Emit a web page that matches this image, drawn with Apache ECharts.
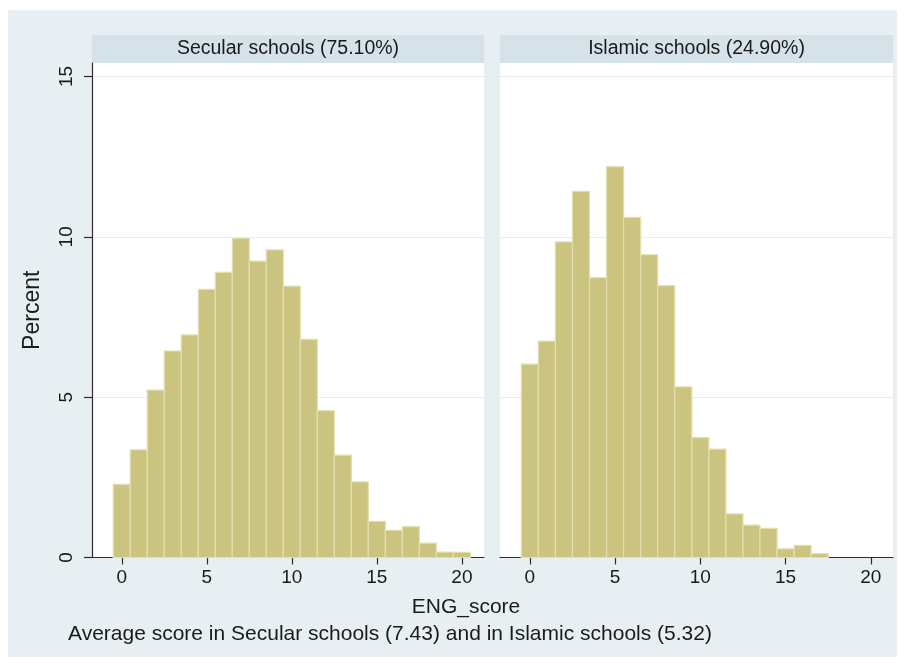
<!DOCTYPE html>
<html>
<head>
<meta charset="utf-8">
<title>ENG_score by school type</title>
<script src="https://cdn.jsdelivr.net/npm/echarts@6/dist/echarts.min.js"></script>
<style>
  html, body { margin: 0; padding: 0; background: #ffffff; }
  #chart { width: 904px; height: 667px; }
</style>
</head>
<body>
<div id="chart"></div>
<script>
// Histogram bins (score values, each bar spans score ± 0.5)
const secularScores = [0, 1, 2, 3, 4, 5, 6, 7, 8, 9, 10, 11, 12, 13, 14, 15, 16, 17, 18, 19, 20];
const secularPercent = [2.28, 3.36, 5.22, 6.44, 6.94, 8.36, 8.89, 9.95, 9.24, 9.59, 8.46, 6.80, 4.58, 3.19, 2.36, 1.13, 0.85, 0.96, 0.45, 0.17, 0.16];

const islamicScores = [0, 1, 2, 3, 4, 5, 6, 7, 8, 9, 10, 11, 12, 13, 14, 15, 16, 17];
const islamicPercent = [6.03, 6.75, 9.84, 11.42, 8.73, 12.19, 10.61, 9.44, 8.48, 5.32, 3.74, 3.38, 1.36, 1.01, 0.91, 0.27, 0.38, 0.12];

const panelTitles = ['Secular schools (75.10%)', 'Islamic schools (24.90%)'];
const xTickValues = [0, 5, 10, 15, 20];
const yTickValues = [0, 5, 10, 15];
const xAxisTitle = 'ENG_score';
const yAxisTitle = 'Percent';
const note = 'Average score in Secular schools (7.43) and in Islamic schools (5.32)';

const FONT = '"Liberation Sans", Arial, sans-serif';
const TEXT = '#1a1a1a';
const BAR_FILL = '#cbc380';
const BAR_EDGE = '#e4dfae';

function pairs(xs, ys) { return xs.map((x, i) => [x, ys[i]]); }

// Each bin is a rectangle from (score - 0.5) to (score + 0.5), drawn via axis coords
function renderBin(params, api) {
  const x = api.value(0);
  const y = api.value(1);
  const topLeft = api.coord([x - 0.5, y]);
  const bottomRight = api.coord([x + 0.5, 0]);
  return {
    type: 'rect',
    shape: {
      x: topLeft[0],
      y: topLeft[1],
      width: bottomRight[0] - topLeft[0],
      height: bottomRight[1] - topLeft[1]
    },
    style: { fill: BAR_FILL, stroke: BAR_EDGE, lineWidth: 1.2 }
  };
}

const grids = [
  { left: 92, top: 63, width: 392, height: 494.5 },
  { left: 500, top: 63, width: 393, height: 494.5 }
];

function xAxisFor(i) {
  return {
    type: 'value', gridIndex: i, min: -1.75, max: 21.3,
    axisLine: { show: true, onZero: false, lineStyle: { color: '#2b2b2b', width: 1.2 } },
    axisTick: { show: true, length: 7, customValues: xTickValues, lineStyle: { color: '#2b2b2b', width: 1.2 } },
    axisLabel: { show: true, customValues: xTickValues, margin: 11, fontFamily: FONT, fontSize: 19, color: TEXT },
    splitLine: { show: false }
  };
}

function yAxisFor(i) {
  const first = i === 0;
  return {
    type: 'value', gridIndex: i, min: 0, max: 15.42, interval: 5,
    name: first ? yAxisTitle : '',
    nameLocation: 'middle', nameGap: 48, nameRotate: 90,
    nameTextStyle: { fontFamily: FONT, fontSize: 23, color: TEXT },
    axisLine: { show: first, onZero: false, lineStyle: { color: '#2b2b2b', width: 1.2 } },
    axisTick: { show: first, length: 8, customValues: yTickValues, lineStyle: { color: '#2b2b2b', width: 1.2 } },
    axisLabel: { show: first, customValues: yTickValues, rotate: 90, margin: 16, fontFamily: FONT, fontSize: 19, color: TEXT },
    splitLine: { show: true, lineStyle: { color: '#e6edf0', width: 1.2 } }
  };
}

const chart = echarts.init(document.getElementById('chart'), null, { renderer: 'canvas' });

chart.setOption({
  backgroundColor: '#ffffff',
  animation: false,
  grid: grids.map(g => Object.assign({ show: true, backgroundColor: '#ffffff', borderWidth: 0 }, g)),
  xAxis: [xAxisFor(0), xAxisFor(1)],
  yAxis: [yAxisFor(0), yAxisFor(1)],
  graphic: [
    // outer plot region
    { type: 'rect', z: -10, silent: true, shape: { x: 8, y: 10, width: 889, height: 647 }, style: { fill: '#e8eff2' } },
    // panel header strips
    { type: 'rect', z: -5, silent: true, shape: { x: 92, y: 35, width: 392, height: 28 }, style: { fill: '#d6e2ea' } },
    { type: 'rect', z: -5, silent: true, shape: { x: 500, y: 35, width: 393, height: 28 }, style: { fill: '#d6e2ea' } },
    { type: 'text', silent: true, x: 288, y: 49, style: { text: panelTitles[0], fontFamily: FONT, fontSize: 19.5, fill: TEXT, align: 'center', verticalAlign: 'middle' } },
    { type: 'text', silent: true, x: 696.5, y: 49, style: { text: panelTitles[1], fontFamily: FONT, fontSize: 19.5, fill: TEXT, align: 'center', verticalAlign: 'middle' } },
    { type: 'text', silent: true, x: 466, y: 607, style: { text: xAxisTitle, fontFamily: FONT, fontSize: 21, fill: TEXT, align: 'center', verticalAlign: 'middle' } },
    { type: 'text', silent: true, x: 68, y: 634, style: { text: note, fontFamily: FONT, fontSize: 21, fill: TEXT, align: 'left', verticalAlign: 'middle' } }
  ],
  series: [
    {
      type: 'custom', name: panelTitles[0], xAxisIndex: 0, yAxisIndex: 0,
      renderItem: renderBin, encode: { x: 0, y: 1 },
      data: pairs(secularScores, secularPercent)
    },
    {
      type: 'custom', name: panelTitles[1], xAxisIndex: 1, yAxisIndex: 1,
      renderItem: renderBin, encode: { x: 0, y: 1 },
      data: pairs(islamicScores, islamicPercent)
    }
  ]
});
</script>
</body>
</html>
